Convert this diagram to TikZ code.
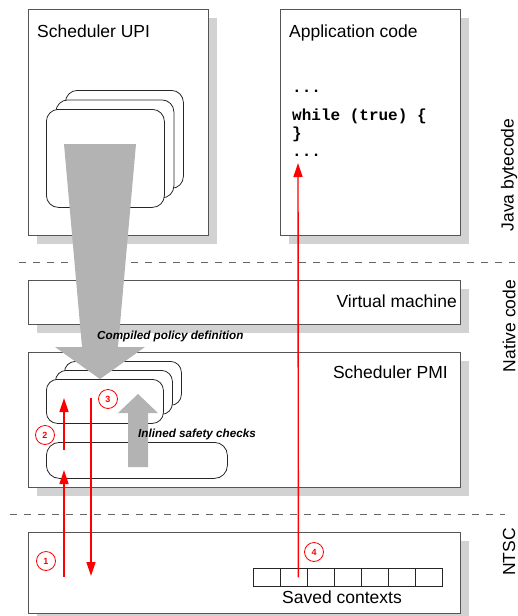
\documentclass[tikz,border=0pt]{standalone}
\usepackage{fontspec}
\setmainfont{Liberation Sans}
\newfontfamily\codefont{Liberation Mono}
\usepackage{tikz}
\usetikzlibrary{positioning,arrows.meta,shadows}
\definecolor{vmBorder}{HTML}{555555}
\definecolor{vmShadow}{HTML}{D2D2D2}
\definecolor{vmArrow}{HTML}{B3B3B3}
\definecolor{vmRed}{HTML}{FF0000}
\newcommand{\vmTitleFont}{\fontsize{17.5}{21}\selectfont}
\newcommand{\vmNoteFont}{\fontsize{11.7}{14}\selectfont\bfseries\itshape}
\tikzset{
  layer/.style={draw=vmBorder, line width=0.9pt, fill=white, inner sep=0pt, anchor=north west,
                drop shadow={shadow xshift=9pt, shadow yshift=-9pt, fill=vmShadow, opacity=1}},
  card/.style={draw=black!85, line width=0.8pt, fill=white, rounded corners=11pt,
               inner sep=0pt, anchor=north west},
  cell/.style={draw=black!85, line width=0.8pt, inner sep=0pt, anchor=north west,
               minimum width=27pt, minimum height=18pt},
  title/.style={font=\vmTitleFont, inner sep=0pt},
  note/.style={font=\vmNoteFont, inner sep=0pt, anchor=base west},
  num/.style={circle, draw=vmRed, text=vmRed, line width=0.8pt, minimum size=19pt,
              inner sep=0pt, font=\fontsize{9}{10}\selectfont\bfseries},
  flow/.style={-{Triangle[length=14pt, width=9pt]}, line width=1.4pt, draw=vmRed},
  push/.style={fill=vmArrow, draw=none},
  level/.style={dash pattern=on 7pt off 7pt, line width=0.8pt, draw=black!60},
}
\begin{document}
\begin{tikzpicture}[x=1pt, y=-1pt]
  \useasboundingbox (0,0) rectangle (518,616);
  \draw[level] (19,262) -- (515,262);
  \draw[level] (10,514) -- (505,514);

  \node[layer, minimum width=180pt, minimum height=226pt] (upi) at (28,9) {};
  \node[layer, minimum width=180pt, minimum height=226pt] (app) at (280,9) {};
  \node[layer, minimum width=432pt, minimum height=44pt] (vm) at (28,280) {};
  \node[layer, minimum width=432pt, minimum height=135pt] (pmi) at (28,352) {};
  \node[layer, minimum width=432pt, minimum height=81pt] (ntsc) at (28,532) {};

  \node[title, anchor=base west] (upiLbl) at (37,37) {Scheduler UPI};
  \node[title, anchor=base west] (appLbl) at (289,37) {Application code};
  \node[title, anchor=base east] (vmLbl) at (457,307) {Virtual machine};
  \node[title, anchor=base east] (pmiLbl) at (448,378) {Scheduler PMI};
  \node[title, rotate=90] (javaLbl) at (509,175) {Java bytecode};
  \node[title, rotate=90] (nativeLbl) at (509,326) {Native code};
  \node[title, rotate=90] (ntscLbl) at (509,552) {NTSC};

  \node[anchor=base west, inner sep=0pt, align=left,
        font=\codefont\bfseries\fontsize{16}{18}\selectfont] (code) at (292,156)
    {...\\[9.5pt]while (true) \{\\\}\\...};

  \node[card, rounded corners=12pt, minimum width=118pt, minimum height=98pt] (uBack) at (65,90) {};
  \node[card, rounded corners=12pt, minimum width=118pt, minimum height=98pt] (uMid) at (55.5,99.5) {};
  \node[card, rounded corners=12pt, minimum width=118pt, minimum height=98pt] (uFront) at (46,109) {};

  \node[card, minimum width=117pt, minimum height=44pt] (pBack) at (64,361) {};
  \node[card, minimum width=117pt, minimum height=44pt] (pMid) at (55,370) {};
  \node[card, minimum width=117pt, minimum height=44pt] (pFront) at (46,379) {};
  \node[card, rounded corners=13pt, minimum width=181pt, minimum height=36pt] (ctx) at (46,442) {};

  \foreach \i in {1,...,7}
    \node[cell] (c\i) at ({253+27*(\i-1)},568) {};
  \node[title, anchor=base] (savedLbl) at (342,603) {Saved contexts};

  \fill[push] (64,144) -- (136,144) -- (118,347) -- (145,347) -- (100,379)
    -- (55,347) -- (82,347) -- cycle;
  \fill[push] (128,467) -- (128,413) -- (118,413) -- (138,394) -- (158,413)
    -- (148,413) -- (148,467) -- cycle;
  \node[note] (compLbl) at (97,339) {Compiled policy definition};
  \node[note] (checkLbl) at (138,437) {Inlined safety checks};

  \coordinate (s1) at (64,577);  \coordinate (e1) at (64,470);
  \coordinate (s2) at (64,450);  \coordinate (e2) at (64,398);
  \coordinate (s3) at (91,398);  \coordinate (e3) at (91,576);
  \coordinate (s4) at ([xshift=4.5pt]c2.center);  \coordinate (e4) at (298,163);
  \draw[flow] (s1) -- (e1);
  \draw[flow] (s2) -- (e2);
  \draw[flow] (s3) -- (e3);
  \draw[flow] (s4) -- (e4);

  \node[num] (n1) at (46,561) {1};
  \node[num] (n2) at (45,435) {2};
  \node[num] (n3) at (108,399) {3};
  \node[num] (n4) at (314,552) {4};
\end{tikzpicture}
\end{document}
